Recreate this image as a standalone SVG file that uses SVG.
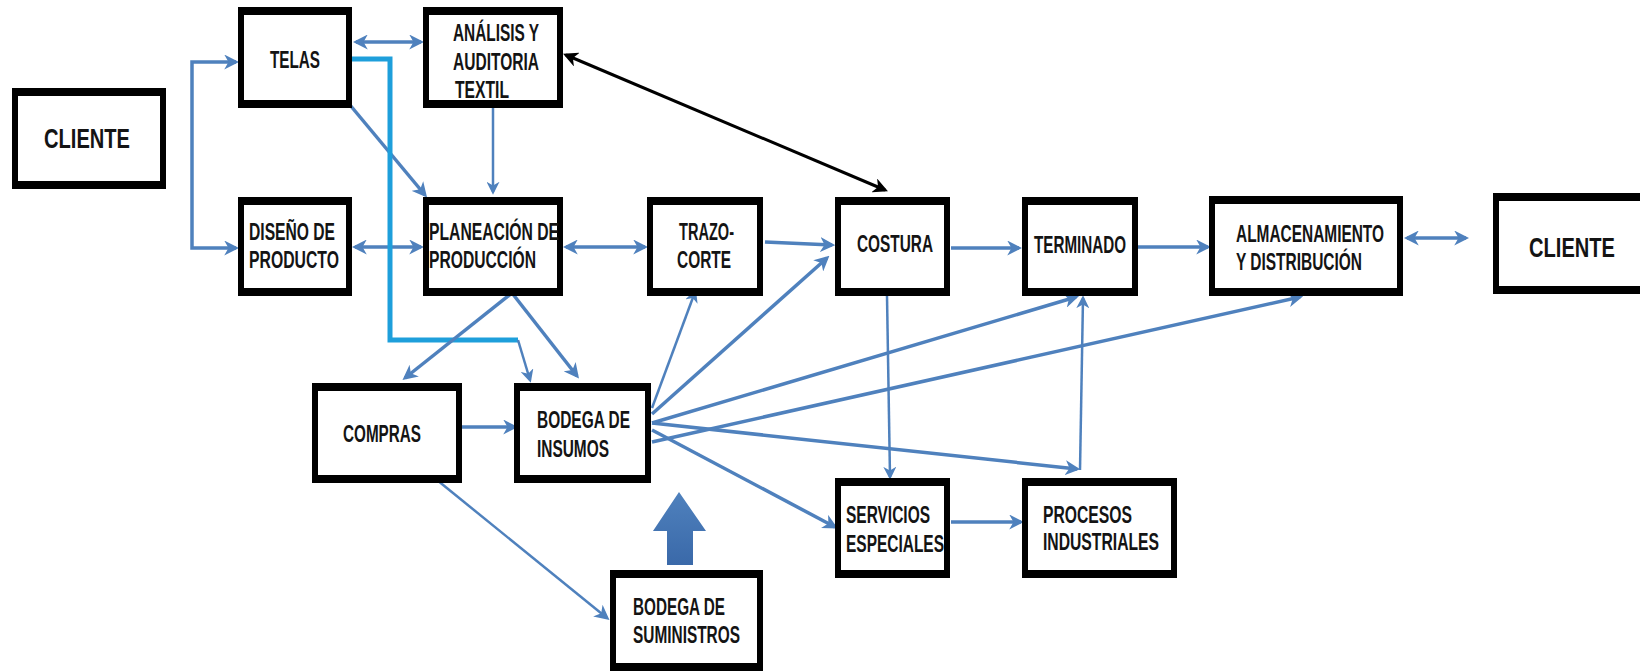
<svg xmlns="http://www.w3.org/2000/svg" width="1640" height="671" viewBox="0 0 1640 671">
  <style>
    .frame { fill: #000; }
    .inner { fill: #fff; }
    .lbl { font-family: "Liberation Sans Narrow", "Liberation Sans", Arial, sans-serif; font-weight: bold; font-size: 24px; fill: #141414; }
    .big { font-size: 28px; }
    .c { fill: none; stroke: #4f81bd; stroke-width: 3.5; }
    .thin { stroke-width: 2.5; }
    .k { fill: none; stroke: #000; stroke-width: 3; }
    .cyan { fill: none; stroke: #1e9fdb; stroke-width: 5; }
  </style>
  <defs>
    <marker id="ah" viewBox="0 0 14 14" refX="11" refY="7" markerWidth="15" markerHeight="15" markerUnits="userSpaceOnUse" orient="auto-start-reverse">
      <path d="M0,0 L14,7 L0,14 L4,7 Z" fill="#4f81bd"/>
    </marker>
    <marker id="ahs" viewBox="0 0 14 14" refX="11" refY="7" markerWidth="13" markerHeight="13" markerUnits="userSpaceOnUse" orient="auto-start-reverse">
      <path d="M0,0 L14,7 L0,14 L4,7 Z" fill="#4f81bd"/>
    </marker>
    <marker id="ahk" viewBox="0 0 14 14" refX="11" refY="7" markerWidth="15" markerHeight="15" markerUnits="userSpaceOnUse" orient="auto-start-reverse">
      <path d="M0,0 L14,7 L0,14 L4,7 Z" fill="#000"/>
    </marker>
    <linearGradient id="bigArrow" x1="0" y1="0" x2="0" y2="1">
      <stop offset="0" stop-color="#4f81bd"/>
      <stop offset="1" stop-color="#3a69a9"/>
    </linearGradient>
  </defs>

  <!-- connectors -->
  <g id="connectors">
    <!-- client bracket to fabrics and design -->
    <path class="c" d="M236,62 H192 V248 H236" marker-start="url(#ah)" marker-end="url(#ah)"/>
    <line class="c" x1="356" y1="42" x2="421" y2="42" marker-start="url(#ah)" marker-end="url(#ah)"/>
    <line class="c" x1="350" y1="105" x2="425" y2="195" marker-end="url(#ah)"/>
    <line class="c thin" x1="493" y1="108" x2="493" y2="192" marker-end="url(#ahs)"/>
    <line class="k" x1="566" y1="55" x2="885" y2="190" marker-start="url(#ahk)" marker-end="url(#ahk)"/>
    <line class="c" x1="355" y1="247" x2="421" y2="247" marker-start="url(#ah)" marker-end="url(#ah)"/>
    <line class="c" x1="566" y1="247" x2="645" y2="247" marker-start="url(#ah)" marker-end="url(#ah)"/>
    <line class="c" x1="765" y1="242" x2="832" y2="245" marker-end="url(#ah)"/>
    <line class="c" x1="951" y1="248" x2="1019" y2="248" marker-end="url(#ah)"/>
    <line class="c" x1="1138" y1="247" x2="1208" y2="247" marker-end="url(#ah)"/>
    <line class="c" x1="1407" y1="238" x2="1466" y2="238" marker-start="url(#ah)" marker-end="url(#ah)"/>

    <!-- fabrics supply route -->
    <path class="cyan" d="M352,59 H390 V340 H518"/>
    <line class="c thin" x1="518" y1="340" x2="530" y2="380" marker-end="url(#ahs)"/>

    <!-- planning to purchasing and raw materials store -->
    <line class="c" x1="512" y1="293" x2="405" y2="378" marker-end="url(#ah)"/>
    <line class="c" x1="512" y1="293" x2="577" y2="376" marker-end="url(#ah)"/>
    <line class="c" x1="462" y1="427" x2="515" y2="427" marker-end="url(#ah)"/>
    <line class="c thin" x1="437" y1="480" x2="607" y2="618" marker-end="url(#ah)"/>

    <!-- raw materials store fan-out -->
    <line class="c thin" x1="652" y1="408" x2="695" y2="292" marker-end="url(#ahs)"/>
    <line class="c" x1="652" y1="414" x2="827" y2="258" marker-end="url(#ah)"/>
    <line class="c" x1="652" y1="423" x2="1076" y2="297" marker-end="url(#ah)"/>
    <line class="c" x1="652" y1="442" x2="1300" y2="297" marker-end="url(#ah)"/>
    <line class="c" x1="652" y1="423" x2="1077" y2="469" marker-end="url(#ah)"/>
    <line class="c" x1="652" y1="430" x2="835" y2="527" marker-end="url(#ah)"/>

    <line class="c thin" x1="887" y1="296" x2="890" y2="477" marker-end="url(#ahs)"/>
    <line class="c thin" x1="1080" y1="470" x2="1083" y2="298" marker-end="url(#ahs)"/>
    <line class="c" x1="951" y1="522" x2="1021" y2="522" marker-end="url(#ah)"/>

    <!-- supplies store feeding raw materials store -->
    <polygon points="679,492 706,531 693,531 693,565 667,565 667,531 653,531" fill="url(#bigArrow)"/>
  </g>

  <!-- nodes -->
  <g id="cliente-entrada">
    <rect class="frame" x="12" y="88" width="154" height="101"/>
    <rect class="inner" x="18" y="96" width="142" height="85"/>
    <text class="lbl big" x="44" y="148" textLength="86" lengthAdjust="spacingAndGlyphs">CLIENTE</text>
  </g>
  <g id="telas">
    <rect class="frame" x="238" y="7" width="114" height="101"/>
    <rect class="inner" x="244" y="15" width="102" height="85"/>
    <text class="lbl" x="270" y="68" textLength="50" lengthAdjust="spacingAndGlyphs">TELAS</text>
  </g>
  <g id="analisis">
    <rect class="frame" x="423" y="7" width="140" height="101"/>
    <rect class="inner" x="429" y="15" width="128" height="85"/>
    <text class="lbl" x="453" y="41" textLength="86" lengthAdjust="spacingAndGlyphs">ANÁLISIS Y</text>
    <text class="lbl" x="453" y="70" textLength="86" lengthAdjust="spacingAndGlyphs">AUDITORIA</text>
    <text class="lbl" x="455" y="98" textLength="54" lengthAdjust="spacingAndGlyphs">TEXTIL</text>
  </g>
  <g id="diseno">
    <rect class="frame" x="238" y="197" width="114" height="99"/>
    <rect class="inner" x="244" y="205" width="102" height="83"/>
    <text class="lbl" x="249" y="240" textLength="86" lengthAdjust="spacingAndGlyphs">DISEÑO DE</text>
    <text class="lbl" x="249" y="268" textLength="90" lengthAdjust="spacingAndGlyphs">PRODUCTO</text>
  </g>
  <g id="planeacion">
    <rect class="frame" x="423" y="197" width="140" height="99"/>
    <rect class="inner" x="429" y="205" width="128" height="83"/>
    <text class="lbl" x="429" y="240" textLength="130" lengthAdjust="spacingAndGlyphs">PLANEACIÓN DE</text>
    <text class="lbl" x="429" y="268" textLength="107" lengthAdjust="spacingAndGlyphs">PRODUCCIÓN</text>
  </g>
  <g id="trazo">
    <rect class="frame" x="647" y="197" width="116" height="99"/>
    <rect class="inner" x="653" y="205" width="104" height="83"/>
    <text class="lbl" x="679" y="240" textLength="55" lengthAdjust="spacingAndGlyphs">TRAZO-</text>
    <text class="lbl" x="677" y="268" textLength="54" lengthAdjust="spacingAndGlyphs">CORTE</text>
  </g>
  <g id="costura">
    <rect class="frame" x="835" y="197" width="115" height="99"/>
    <rect class="inner" x="841" y="205" width="103" height="83"/>
    <text class="lbl" x="857" y="252" textLength="76" lengthAdjust="spacingAndGlyphs">COSTURA</text>
  </g>
  <g id="terminado">
    <rect class="frame" x="1022" y="197" width="116" height="99"/>
    <rect class="inner" x="1028" y="205" width="104" height="83"/>
    <text class="lbl" x="1034" y="253" textLength="92" lengthAdjust="spacingAndGlyphs">TERMINADO</text>
  </g>
  <g id="almacenamiento">
    <rect class="frame" x="1209" y="196" width="194" height="100"/>
    <rect class="inner" x="1215" y="204" width="182" height="84"/>
    <text class="lbl" x="1236" y="242" textLength="148" lengthAdjust="spacingAndGlyphs">ALMACENAMIENTO</text>
    <text class="lbl" x="1236" y="270" textLength="126" lengthAdjust="spacingAndGlyphs">Y DISTRIBUCIÓN</text>
  </g>
  <g id="cliente-salida">
    <rect class="frame" x="1493" y="193" width="160" height="101"/>
    <rect class="inner" x="1499" y="201" width="148" height="85"/>
    <text class="lbl big" x="1529" y="257" textLength="86" lengthAdjust="spacingAndGlyphs">CLIENTE</text>
  </g>
  <g id="compras">
    <rect class="frame" x="312" y="383" width="150" height="100"/>
    <rect class="inner" x="318" y="391" width="138" height="84"/>
    <text class="lbl" x="343" y="442" textLength="78" lengthAdjust="spacingAndGlyphs">COMPRAS</text>
  </g>
  <g id="bodega-insumos">
    <rect class="frame" x="514" y="383" width="137" height="100"/>
    <rect class="inner" x="520" y="391" width="125" height="84"/>
    <text class="lbl" x="537" y="428" textLength="93" lengthAdjust="spacingAndGlyphs">BODEGA DE</text>
    <text class="lbl" x="537" y="457" textLength="72" lengthAdjust="spacingAndGlyphs">INSUMOS</text>
  </g>
  <g id="servicios">
    <rect class="frame" x="835" y="478" width="115" height="100"/>
    <rect class="inner" x="841" y="486" width="103" height="84"/>
    <text class="lbl" x="846" y="523" textLength="84" lengthAdjust="spacingAndGlyphs">SERVICIOS</text>
    <text class="lbl" x="846" y="552" textLength="98" lengthAdjust="spacingAndGlyphs">ESPECIALES</text>
  </g>
  <g id="procesos">
    <rect class="frame" x="1022" y="478" width="155" height="100"/>
    <rect class="inner" x="1028" y="486" width="143" height="84"/>
    <text class="lbl" x="1043" y="523" textLength="89" lengthAdjust="spacingAndGlyphs">PROCESOS</text>
    <text class="lbl" x="1043" y="550" textLength="116" lengthAdjust="spacingAndGlyphs">INDUSTRIALES</text>
  </g>
  <g id="bodega-suministros">
    <rect class="frame" x="610" y="570" width="153" height="101"/>
    <rect class="inner" x="616" y="578" width="141" height="85"/>
    <text class="lbl" x="633" y="615" textLength="92" lengthAdjust="spacingAndGlyphs">BODEGA DE</text>
    <text class="lbl" x="633" y="643" textLength="107" lengthAdjust="spacingAndGlyphs">SUMINISTROS</text>
  </g>
</svg>
